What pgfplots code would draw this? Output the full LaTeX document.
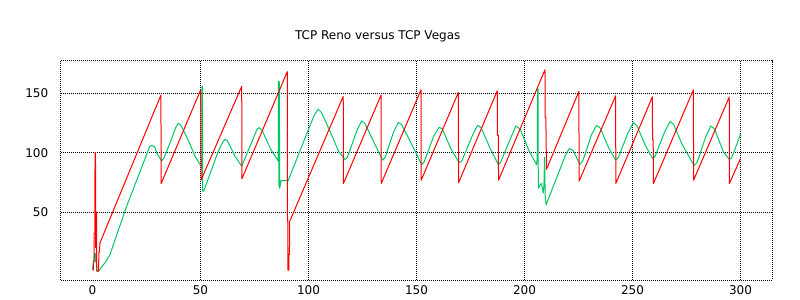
\documentclass[border=0pt]{standalone}
\usepackage{fontspec}
\setmainfont{DejaVu Sans}
\usepackage{pgfplots}
\pgfplotsset{compat=1.18}
\definecolor{reno}{RGB}{255,0,0}
\definecolor{vegas}{RGB}{0,200,100}
\begin{document}
\begin{tikzpicture}
\path[use as bounding box] (0,0) rectangle (800bp,300bp);
\begin{axis}[
  at={(60.7bp,20bp)}, anchor=south west,
  scale only axis, width=711.3bp, height=219.3bp,
  xmin=-14.7, xmax=314.6, ymin=-7.4, ymax=177.6,
  xtick={50,100,...,300}, ytick={50,100,150},
  extra x ticks={0}, extra x tick style={grid=none},
  grid=major,
  grid style={black, line width=0.7bp, dash pattern=on 1bp off 1bp},
  axis line style={black, line width=0.7bp, dash pattern=on 1bp off 1bp},
  major tick length=0,
  tick label style={font=\fontsize{12bp}{14bp}\selectfont},
  /pgf/number format/assume math mode=true,
  xticklabel style={yshift=-2bp},
  yticklabel style={xshift=-9bp},
  every axis title shift=0pt,
  title={TCP Reno versus TCP Vegas},
  title style={at={(axis description cs:0.4457,1.1094)}, anchor=center, font=\fontsize{12bp}{14bp}\selectfont, inner sep=0pt},
  clip=false,
]
% TCP Vegas
\addplot[vegas, line width=1bp, line join=round] coordinates {
(0,1.7) (0.5,8) (1.0,15) (1.3,15) (1.5,8) (1.8,8) (2.0,0) (2.8,0) (4,3) (5,5.3) (6.5,9) (8.1,14)
(15.8,54.7) (26.6,105.6) (27.5,106) (28.8,105) (30,99) (32,93) (33,95) (36.5,111) (38.5,121)
(39.7,124.8) (41,123) (44,112) (47.5,97) (49.8,90) (50.6,88) (50.7,156) (50.9,156) (51.0,67.5)
(51.5,67.5) (58,100) (60,108) (61.3,111.3) (62.5,110) (66,97) (69.1,88.6) (74,110) (76,119)
(77.1,121.2) (78.5,119) (82.5,103) (86,92.9) (86.1,160) (86.3,72) (86.5,160) (86.7,70) (87.1,74)
(87.3,76.5) (90.6,76.5) (102.5,131) (104.5,136.7) (106,134) (110,118) (114,101) (116.9,94.3)
(118,96) (122.5,119) (124.6,126.8) (126,125) (130,110) (134.3,93.7) (135.5,96) (139.5,118)
(141.6,125.4) (143,124) (147,110) (152.4,90) (153.5,92) (158,114) (160.5,121.5) (162,120)
(166,103) (169.8,91.5) (171,93) (176,115) (178.3,123.1) (180,121) (184,104) (187.9,90) (189,92)
(194,114) (196,122.5) (198,120) (202,102) (205.6,90) (205.9,95) (206.1,154) (206.3,154)
(206.4,70) (207,72) (207.8,74) (208.3,70) (208.7,66) (209,72) (209.3,96) (209.6,64) (210,56)
(216,84) (219,98) (220.7,103.4) (222.5,102) (225.7,90) (227,93) (231,115) (233.4,123.1)
(235,121) (239,104) (242.2,93.7) (243.5,96) (248,117) (250.4,125.4) (252,123) (256,106)
(259.4,94.9) (260.5,97) (265,118) (267.4,126.3) (269,124) (273,107) (278.5,89.2) (280,92)
(284,114) (286.3,122.5) (288,120) (292,101) (294.8,94.3) (296,96) (300,115.5)
};
% TCP Reno
\addplot[reno, line width=1bp, line join=round] coordinates {
(0,1) (0.4,1) (0.5,8) (0.8,8) (0.8,32) (1.1,32) (1.2,100) (1.4,100) (1.5,20) (1.7,50) (1.9,50)
(2.0,0) (2.8,0) (3.0,16) (3.2,16) (3.5,24)
(31.7,148.6) (31.8,74) (50.1,153) (50.3,77) (69.1,156) (69.2,78)
(90.2,168.3) (90.3,42) (90.5,42) (90.5,1) (90.9,1) (90.9,14) (91.2,14) (91.3,42)
(116.1,147.5) (116.2,74) (133.6,148.6) (133.7,74) (152.1,153) (152.2,76.8)
(169.4,150.8) (169.5,74.6) (187.4,152.2) (187.5,114.7) (187.9,114.7) (188.0,76.8)
(209.5,170) (209.6,129.7) (209.9,129.7) (210.2,86) (225.2,151.7) (225.3,76)
(242.2,148) (242.3,74) (259.2,147.1) (259.3,111) (259.6,111) (259.7,74)
(278.2,153) (278.3,76.8) (294.8,147) (294.9,74) (300,95)
};
\end{axis}
\end{tikzpicture}
\end{document}
